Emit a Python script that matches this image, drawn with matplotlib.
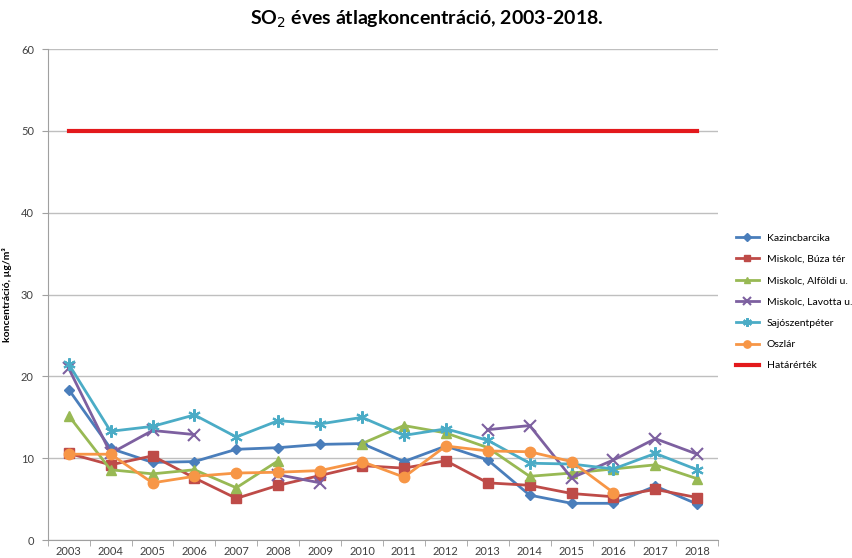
import numpy as np
import matplotlib
matplotlib.use("Agg")
from matplotlib import pyplot as plt

plt.rcParams['font.family'] = ['Lato', 'DejaVu Sans']

# adatok
evek = [str(e) for e in range(2003, 2019)]
nan = np.nan
kazincbarcika = [18.4, 11.2, 9.5, 9.6, 11.1, 11.3, 11.7, 11.8, 9.6, 11.5, 9.8, 5.5, 4.5, 4.5, 6.6, 4.4]
buza_ter = [10.6, 9.2, 10.3, 7.6, 5.1, 6.7, 7.9, 9.1, 8.8, 9.7, 7.0, 6.7, 5.7, 5.3, 6.2, 5.2]
alfoldi = [15.2, 8.6, 8.1, 8.6, 6.4, 9.7, nan, 11.8, 14.0, 13.1, 11.3, 7.8, 8.2, 8.7, 9.2, 7.5]
lavotta = [21.0, 10.6, 13.4, 12.9, nan, 8.0, 7.0, nan, nan, nan, 13.5, 14.0, 7.6, 9.8, 12.4, 10.5]
sajoszentpeter = [21.5, 13.3, 13.9, 15.3, 12.6, 14.6, 14.2, 15.0, 12.8, 13.6, 12.2, 9.4, 9.3, 8.7, 10.6, 8.6]
oszlar = [10.5, 10.5, 7.0, 7.8, 8.2, 8.3, 8.5, 9.6, 7.7, 11.5, 10.9, 10.8, 9.6, 5.8, nan, nan]
hatarertek = [50] * 16

x = np.arange(len(evek))

fig = plt.figure(figsize=(8.53, 5.58), dpi=100)
ax = fig.add_axes([0.056, 0.032, 0.786, 0.880])

# sorozatok: (adat, név, szín, marker, méret)
sorok = [
    (kazincbarcika, "Kazincbarcika", "#4A7EBB", "D", 5.5),
    (buza_ter, "Miskolc, Búza tér", "#BE4B48", "s", 7),
    (alfoldi, "Miskolc, Alföldi u.", "#98B954", "^", 7),
    (lavotta, "Miskolc, Lavotta u.", "#7D60A0", "x", 8),
    (sajoszentpeter, "Sajószentpéter", "#4BACC6", (6, 2, 0), 9),
    (oszlar, "Oszlár", "#F79646", "o", 7.5),
]
for adat, nev, szin, mk, ms in sorok:
    ax.plot(x, adat, color=szin, marker=mk, markersize=ms, linewidth=2,
            markeredgewidth=1.5 if mk in ("x",) or isinstance(mk, tuple) else 1,
            label=nev)
ax.plot(x, hatarertek, color="#E3191C", linewidth=3, label="Határérték")

ax.set_xlim(-0.5, len(evek) - 0.5)
ax.set_ylim(0, 60)
ax.set_yticks(range(0, 61, 10))
ax.set_xticks(x)
ax.set_xticklabels(evek)
ax.set_xticks(np.arange(-0.5, len(evek), 1), minor=True)
ax.tick_params(axis='x', which='major', length=0, labelsize=8, colors="#404040", pad=4)
ax.tick_params(axis='x', which='minor', length=4, color="#A0A0A0")
ax.tick_params(axis='y', length=4, labelsize=8, colors="#404040", pad=6)
ax.tick_params(axis='y', color="#A0A0A0")
ax.grid(axis='y', color="#BFBFBF", linewidth=1)
ax.set_axisbelow(True)
for s in ["top", "right"]:
    ax.spines[s].set_visible(False)
ax.spines["left"].set_color("#A0A0A0")
ax.spines["bottom"].set_color("#A0A0A0")

ax.set_ylabel("koncentráció, µg/m³", fontsize=7.5, fontweight="bold")
ax.yaxis.set_label_coords(-0.054, 0.5)
fig.suptitle("SO$_2$ éves átlagkoncentráció, 2003-2018.", fontsize=14, fontweight="bold",
             x=0.5, y=0.985)

ax.legend(loc="center left", bbox_to_anchor=(1.012, 0.485), frameon=False, fontsize=7.5,
          handlelength=2.2, labelspacing=1.15, markerscale=0.7)

fig.savefig("out.png", dpi=100)
